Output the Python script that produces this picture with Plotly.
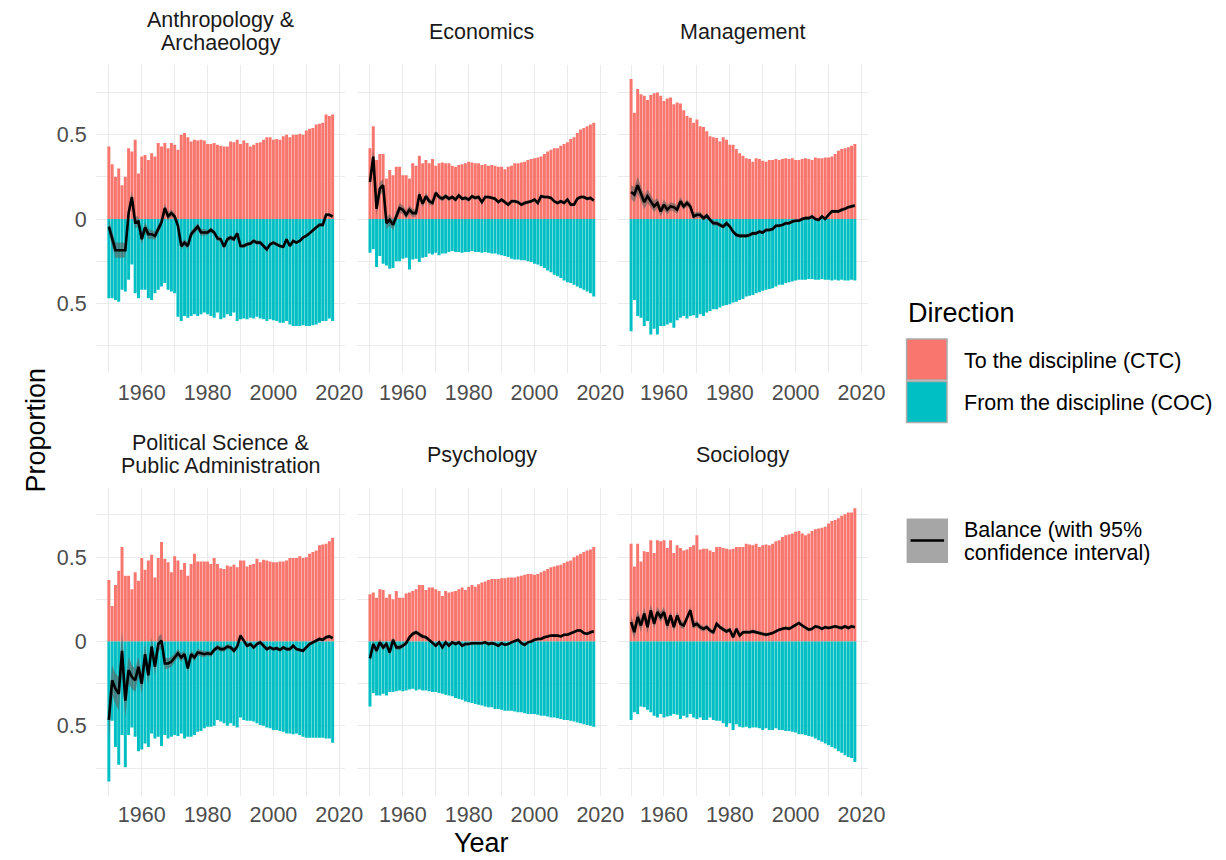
import plotly.graph_objects as go

# The rendered page shows the figure 8 px lower than the canvas top, so the
# figure is 8 px shorter and vertical positions (measured on a 1226x860 canvas)
# are shifted up by 8 px. Horizontal positions need no shift.
PAGE_W, PAGE_H = 1226, 860
OFF_Y = 8
W, H = PAGE_W, PAGE_H - OFF_Y
FONT = "Liberation Sans, Arial, sans-serif"

years = list(range(1950, 2019))
panel_names = ["Anthropology & Archaeology", "Economics", "Management",
               "Political Science & Public Administration", "Psychology", "Sociology"]
strip_lines = [["Anthropology &", "Archaeology"], ["Economics"], ["Management"],
               ["Political Science &", "Public Administration"], ["Psychology"], ["Sociology"]]
x_tick_vals = [1960, 1980, 2000, 2020]
x_tick_text = ["1960", "1980", "2000", "2020"]
x_minor_vals = [1950, 1970, 1990, 2010]
y_tick_vals = [-0.5, 0, 0.5]
y_tick_text = ["0.5", "0", "0.5"]
y_minor_vals = [-0.75, -0.25, 0.25, 0.75]
legend_labels = ["To the discipline (CTC)", "From the discipline (COC)"]
balance_label = ["Balance (with 95%", "confidence interval)"]

# ---------------- Anthropology & Archaeology ----------------
anthro_ctc = [0.43, 0.325, 0.25, 0.30, 0.20, 0.25, 0.42, 0.40, 0.47, 0.27,
              0.37, 0.38, 0.35, 0.39, 0.37, 0.45, 0.43, 0.45, 0.42, 0.45,
              0.44, 0.41, 0.50, 0.51, 0.485, 0.46, 0.47, 0.465, 0.47, 0.465,
              0.445, 0.445, 0.45, 0.44, 0.435, 0.43, 0.43, 0.46, 0.455, 0.47,
              0.445, 0.465, 0.45, 0.43, 0.44, 0.45, 0.455, 0.47, 0.485, 0.485,
              0.47, 0.475, 0.47, 0.49, 0.50, 0.485, 0.50, 0.50, 0.505, 0.50,
              0.525, 0.535, 0.54, 0.56, 0.565, 0.57, 0.62, 0.61, 0.62]
anthro_coc = [-0.47, -0.47, -0.48, -0.49, -0.42, -0.43, -0.36, -0.27, -0.44, -0.47,
              -0.42, -0.42, -0.47, -0.48, -0.44, -0.42, -0.40, -0.38, -0.42, -0.43,
              -0.44, -0.58, -0.605, -0.575, -0.585, -0.575, -0.565, -0.575, -0.565, -0.555,
              -0.565, -0.575, -0.585, -0.555, -0.595, -0.585, -0.565, -0.575, -0.555, -0.605,
              -0.595, -0.59, -0.595, -0.585, -0.59, -0.58, -0.59, -0.595, -0.605, -0.595,
              -0.60, -0.605, -0.615, -0.615, -0.605, -0.625, -0.635, -0.635, -0.635, -0.63,
              -0.635, -0.635, -0.63, -0.625, -0.615, -0.605, -0.605, -0.59, -0.605]
anthro_bal = [-0.045, -0.12, -0.185, -0.185, -0.185, -0.185, 0.035, 0.13, -0.02, -0.015,
              -0.12, -0.05, -0.09, -0.09, -0.10, -0.06, -0.02, 0.065, 0.015, 0.035,
              0.015, -0.04, -0.16, -0.14, -0.16, -0.09, -0.07, -0.045, -0.08, -0.08,
              -0.08, -0.065, -0.08, -0.115, -0.12, -0.165, -0.12, -0.11, -0.12, -0.085,
              -0.16, -0.16, -0.15, -0.145, -0.13, -0.14, -0.14, -0.16, -0.18, -0.15,
              -0.14, -0.15, -0.16, -0.165, -0.12, -0.16, -0.13, -0.14, -0.13, -0.11,
              -0.10, -0.085, -0.065, -0.05, -0.035, -0.035, 0.025, 0.025, 0.015]
anthro_ci = [0.04, 0.04, 0.045, 0.045, 0.045, 0.04, 0.04, 0.035, 0.035, 0.03,
             0.03, 0.03, 0.03, 0.025, 0.025, 0.025, 0.025, 0.025, 0.025, 0.02,
             0.02, 0.02, 0.02, 0.02, 0.02, 0.02, 0.02, 0.02, 0.02, 0.02,
             0.015, 0.015, 0.015, 0.015, 0.015, 0.015, 0.015, 0.015, 0.015, 0.015,
             0.012, 0.012, 0.012, 0.012, 0.012, 0.012, 0.012, 0.012, 0.012, 0.012,
             0.01, 0.01, 0.01, 0.01, 0.01, 0.01, 0.01, 0.01, 0.01, 0.01,
             0.01, 0.01, 0.01, 0.01, 0.01, 0.01, 0.01, 0.01, 0.01]

# ---------------- Economics ----------------
econ_ctc = [0.42, 0.55, 0.35, 0.385, 0.385, 0.24, 0.29, 0.26, 0.31, 0.31,
            0.26, 0.26, 0.24, 0.33, 0.315, 0.375, 0.33, 0.35, 0.33, 0.355,
            0.315, 0.33, 0.335, 0.33, 0.33, 0.315, 0.31, 0.32, 0.325, 0.33,
            0.34, 0.335, 0.33, 0.33, 0.32, 0.325, 0.315, 0.32, 0.315, 0.31,
            0.31, 0.295, 0.31, 0.315, 0.33, 0.33, 0.335, 0.34, 0.35, 0.355,
            0.36, 0.365, 0.37, 0.385, 0.40, 0.41, 0.42, 0.42, 0.435, 0.445,
            0.455, 0.475, 0.485, 0.51, 0.53, 0.54, 0.55, 0.56, 0.57]
econ_coc = [-0.20, -0.18, -0.285, -0.22, -0.265, -0.275, -0.295, -0.29, -0.25, -0.25,
            -0.235, -0.23, -0.30, -0.24, -0.235, -0.255, -0.23, -0.225, -0.205, -0.21,
            -0.20, -0.215, -0.205, -0.205, -0.195, -0.19, -0.195, -0.195, -0.20, -0.195,
            -0.195, -0.19, -0.195, -0.195, -0.20, -0.195, -0.20, -0.205, -0.205, -0.21,
            -0.215, -0.22, -0.225, -0.235, -0.24, -0.24, -0.245, -0.245, -0.25, -0.255,
            -0.265, -0.27, -0.28, -0.29, -0.305, -0.315, -0.33, -0.34, -0.35, -0.365,
            -0.375, -0.38, -0.39, -0.40, -0.41, -0.42, -0.43, -0.44, -0.46]
econ_bal = [0.22, 0.37, 0.06, 0.18, 0.20, -0.025, -0.005, -0.035, 0.015, 0.065,
            0.055, 0.025, 0.055, 0.035, 0.035, 0.145, 0.09, 0.135, 0.105, 0.095,
            0.155, 0.13, 0.12, 0.135, 0.12, 0.13, 0.115, 0.14, 0.12, 0.125,
            0.115, 0.135, 0.125, 0.13, 0.10, 0.13, 0.13, 0.125, 0.12, 0.10,
            0.115, 0.10, 0.085, 0.105, 0.105, 0.10, 0.085, 0.095, 0.10, 0.105,
            0.115, 0.095, 0.135, 0.13, 0.13, 0.125, 0.105, 0.095, 0.105, 0.095,
            0.115, 0.085, 0.085, 0.12, 0.13, 0.13, 0.12, 0.125, 0.11]
econ_ci = [0.045, 0.05, 0.04, 0.04, 0.035, 0.035, 0.035, 0.03, 0.03, 0.03,
           0.025, 0.025, 0.025, 0.025, 0.02, 0.02, 0.02, 0.02, 0.02, 0.015,
           0.015, 0.015, 0.015, 0.015, 0.015, 0.012, 0.012, 0.012, 0.012, 0.012,
           0.012, 0.012, 0.012, 0.012, 0.012, 0.01, 0.01, 0.01, 0.01, 0.01,
           0.01, 0.01, 0.01, 0.01, 0.01, 0.01, 0.01, 0.01, 0.01, 0.01,
           0.01, 0.01, 0.01, 0.01, 0.01, 0.01, 0.01, 0.01, 0.01, 0.01,
           0.01, 0.01, 0.01, 0.01, 0.01, 0.01, 0.01, 0.01, 0.01]

# ---------------- Management ----------------
mgmt_ctc = [0.83, 0.63, 0.77, 0.74, 0.73, 0.705, 0.735, 0.745, 0.75, 0.73,
            0.70, 0.715, 0.72, 0.68, 0.69, 0.685, 0.645, 0.61, 0.60, 0.57,
            0.59, 0.55, 0.545, 0.52, 0.49, 0.485, 0.48, 0.46, 0.485, 0.47,
            0.44, 0.44, 0.415, 0.39, 0.375, 0.36, 0.355, 0.34, 0.36, 0.355,
            0.345, 0.34, 0.35, 0.35, 0.355, 0.35, 0.355, 0.36, 0.355, 0.36,
            0.35, 0.35, 0.355, 0.36, 0.355, 0.35, 0.365, 0.36, 0.36, 0.365,
            0.365, 0.37, 0.385, 0.405, 0.415, 0.42, 0.425, 0.435, 0.445]
mgmt_coc = [-0.665, -0.48, -0.575, -0.585, -0.635, -0.605, -0.685, -0.65, -0.685, -0.635,
            -0.635, -0.625, -0.615, -0.645, -0.60, -0.585, -0.575, -0.59, -0.575, -0.57,
            -0.585, -0.565, -0.575, -0.555, -0.545, -0.535, -0.535, -0.525, -0.515, -0.51,
            -0.505, -0.495, -0.49, -0.48, -0.475, -0.46, -0.455, -0.45, -0.44, -0.435,
            -0.425, -0.42, -0.415, -0.41, -0.40, -0.39, -0.39, -0.38, -0.375, -0.37,
            -0.365, -0.36, -0.36, -0.36, -0.355, -0.355, -0.36, -0.36, -0.355, -0.36,
            -0.36, -0.365, -0.36, -0.365, -0.36, -0.365, -0.365, -0.36, -0.365]
mgmt_bal = [0.16, 0.145, 0.20, 0.155, 0.10, 0.135, 0.105, 0.075, 0.095, 0.045,
            0.085, 0.055, 0.075, 0.07, 0.055, 0.105, 0.075, 0.095, 0.075, 0.015,
            0.025, 0.025, 0.005, 0.02, -0.005, -0.025, -0.025, -0.035, -0.045, -0.025,
            -0.045, -0.075, -0.095, -0.10, -0.10, -0.10, -0.095, -0.085, -0.085, -0.075,
            -0.08, -0.065, -0.065, -0.06, -0.04, -0.04, -0.035, -0.025, -0.025, -0.015,
            -0.01, -0.01, 0.0, 0.005, 0.005, 0.015, 0.0, -0.005, 0.015, 0.0,
            0.025, 0.045, 0.045, 0.045, 0.055, 0.06, 0.07, 0.075, 0.08]
mgmt_ci = [0.04, 0.045, 0.05, 0.045, 0.04, 0.04, 0.035, 0.035, 0.03, 0.03,
           0.03, 0.03, 0.025, 0.025, 0.025, 0.025, 0.02, 0.02, 0.02, 0.02,
           0.018, 0.018, 0.016, 0.016, 0.015, 0.015, 0.014, 0.014, 0.013, 0.013,
           0.012, 0.012, 0.012, 0.012, 0.011, 0.011, 0.011, 0.011, 0.01, 0.01,
           0.01, 0.01, 0.01, 0.01, 0.01, 0.01, 0.01, 0.01, 0.01, 0.01,
           0.01, 0.01, 0.01, 0.01, 0.01, 0.01, 0.01, 0.01, 0.01, 0.01,
           0.01, 0.01, 0.01, 0.01, 0.01, 0.01, 0.01, 0.01, 0.01]

# ---------------- Political Science & Public Administration ----------------
polsci_ctc = [0.365, 0.21, 0.335, 0.42, 0.56, 0.39, 0.39, 0.31, 0.41, 0.36,
              0.495, 0.425, 0.48, 0.515, 0.38, 0.495, 0.59, 0.49, 0.47, 0.41,
              0.505, 0.48, 0.425, 0.465, 0.39, 0.46, 0.52, 0.475, 0.475, 0.475,
              0.475, 0.46, 0.495, 0.46, 0.435, 0.43, 0.45, 0.445, 0.455, 0.44,
              0.48, 0.48, 0.445, 0.455, 0.46, 0.49, 0.47, 0.485, 0.48, 0.475,
              0.47, 0.47, 0.475, 0.475, 0.48, 0.495, 0.495, 0.495, 0.505, 0.495,
              0.50, 0.52, 0.53, 0.54, 0.57, 0.575, 0.58, 0.595, 0.615]
polsci_coc = [-0.83, -0.47, -0.625, -0.73, -0.555, -0.745, -0.555, -0.51, -0.565, -0.65,
              -0.64, -0.605, -0.625, -0.545, -0.575, -0.565, -0.62, -0.555, -0.575, -0.565,
              -0.555, -0.56, -0.545, -0.575, -0.565, -0.565, -0.555, -0.535, -0.53, -0.515,
              -0.505, -0.505, -0.50, -0.465, -0.475, -0.485, -0.50, -0.485, -0.50, -0.51,
              -0.45, -0.465, -0.47, -0.47, -0.475, -0.485, -0.495, -0.50, -0.51, -0.515,
              -0.525, -0.525, -0.53, -0.535, -0.545, -0.545, -0.55, -0.545, -0.555, -0.565,
              -0.57, -0.57, -0.57, -0.57, -0.57, -0.57, -0.575, -0.575, -0.60]
polsci_bal = [-0.465, -0.23, -0.28, -0.31, -0.055, -0.35, -0.17, -0.21, -0.23, -0.15,
              -0.25, -0.075, -0.20, -0.03, -0.15, -0.015, 0.005, -0.13, -0.13, -0.12,
              -0.095, -0.07, -0.095, -0.075, -0.16, -0.075, -0.095, -0.065, -0.07, -0.075,
              -0.07, -0.075, -0.05, -0.035, -0.045, -0.045, -0.03, -0.035, -0.055, -0.03,
              0.035, 0.005, -0.025, -0.015, -0.035, -0.015, -0.005, -0.025, -0.045, -0.035,
              -0.045, -0.04, -0.05, -0.035, -0.045, -0.045, -0.025, -0.045, -0.05, -0.055,
              -0.035, -0.015, -0.005, 0.005, 0.015, 0.01, 0.025, 0.03, 0.02]
polsci_ci = [0.12, 0.09, 0.09, 0.10, 0.12, 0.10, 0.08, 0.07, 0.07, 0.06,
             0.06, 0.06, 0.05, 0.05, 0.045, 0.045, 0.04, 0.035, 0.03, 0.03,
             0.025, 0.025, 0.025, 0.02, 0.02, 0.02, 0.02, 0.02, 0.018, 0.018,
             0.015, 0.015, 0.015, 0.015, 0.015, 0.015, 0.015, 0.015, 0.015, 0.015,
             0.012, 0.012, 0.012, 0.012, 0.012, 0.012, 0.012, 0.012, 0.012, 0.012,
             0.01, 0.01, 0.01, 0.01, 0.01, 0.01, 0.01, 0.01, 0.01, 0.01,
             0.01, 0.01, 0.01, 0.01, 0.01, 0.01, 0.01, 0.01, 0.01]

# ---------------- Psychology ----------------
psych_ctc = [0.28, 0.29, 0.26, 0.31, 0.305, 0.26, 0.28, 0.25, 0.30, 0.26,
             0.26, 0.285, 0.29, 0.30, 0.31, 0.335, 0.335, 0.305, 0.32, 0.32,
             0.31, 0.30, 0.27, 0.30, 0.29, 0.295, 0.30, 0.31, 0.32, 0.305,
             0.325, 0.335, 0.325, 0.34, 0.35, 0.355, 0.365, 0.37, 0.37, 0.37,
             0.375, 0.375, 0.38, 0.38, 0.38, 0.385, 0.39, 0.395, 0.40, 0.40,
             0.395, 0.40, 0.41, 0.42, 0.43, 0.44, 0.445, 0.45, 0.455, 0.465,
             0.475, 0.48, 0.50, 0.51, 0.52, 0.53, 0.54, 0.545, 0.56]
psych_coc = [-0.385, -0.305, -0.32, -0.32, -0.31, -0.32, -0.30, -0.30, -0.295, -0.29,
             -0.295, -0.29, -0.285, -0.28, -0.29, -0.285, -0.29, -0.29, -0.295, -0.30,
             -0.30, -0.305, -0.31, -0.315, -0.32, -0.325, -0.335, -0.34, -0.345, -0.355,
             -0.36, -0.365, -0.37, -0.375, -0.38, -0.385, -0.39, -0.39, -0.40, -0.40,
             -0.405, -0.41, -0.41, -0.41, -0.415, -0.42, -0.42, -0.425, -0.43, -0.43,
             -0.43, -0.435, -0.44, -0.44, -0.445, -0.45, -0.45, -0.455, -0.46, -0.465,
             -0.465, -0.47, -0.475, -0.48, -0.485, -0.49, -0.495, -0.50, -0.505]
psych_bal = [-0.10, -0.015, -0.055, -0.005, -0.035, -0.015, -0.065, 0.01, -0.035, -0.035,
             -0.025, -0.01, 0.025, 0.045, 0.055, 0.04, 0.03, 0.025, 0.01, -0.005,
             -0.025, -0.005, -0.035, -0.005, -0.025, -0.005, -0.015, -0.005, -0.025, -0.015,
             -0.015, -0.01, -0.01, -0.01, -0.01, -0.005, -0.015, -0.01, -0.015, -0.025,
             -0.01, -0.02, -0.015, -0.005, 0.005, 0.01, -0.01, -0.02, -0.005, 0.0,
             0.01, 0.015, 0.015, 0.025, 0.03, 0.035, 0.035, 0.035, 0.03, 0.04,
             0.04, 0.05, 0.055, 0.065, 0.065, 0.05, 0.045, 0.055, 0.06]
psych_ci = [0.02, 0.02, 0.02, 0.018, 0.018, 0.018, 0.016, 0.016, 0.015, 0.015,
            0.014, 0.014, 0.013, 0.013, 0.012, 0.012, 0.012, 0.011, 0.011, 0.01,
            0.01, 0.01, 0.01, 0.01, 0.01, 0.01, 0.01, 0.01, 0.01, 0.01,
            0.009, 0.009, 0.009, 0.009, 0.009, 0.009, 0.009, 0.009, 0.009, 0.009,
            0.008, 0.008, 0.008, 0.008, 0.008, 0.008, 0.008, 0.008, 0.008, 0.008,
            0.008, 0.008, 0.008, 0.008, 0.008, 0.008, 0.008, 0.008, 0.008, 0.008,
            0.008, 0.008, 0.008, 0.008, 0.008, 0.008, 0.008, 0.008, 0.008]

# ---------------- Sociology ----------------
soc_ctc = [0.58, 0.445, 0.58, 0.475, 0.535, 0.53, 0.60, 0.525, 0.60, 0.595,
           0.60, 0.555, 0.60, 0.525, 0.57, 0.555, 0.54, 0.545, 0.56, 0.57,
           0.63, 0.545, 0.55, 0.55, 0.54, 0.53, 0.56, 0.56, 0.555, 0.55,
           0.545, 0.55, 0.56, 0.56, 0.56, 0.58, 0.575, 0.57, 0.58, 0.56,
           0.57, 0.575, 0.57, 0.58, 0.595, 0.60, 0.62, 0.63, 0.635, 0.64,
           0.65, 0.655, 0.64, 0.63, 0.64, 0.655, 0.665, 0.67, 0.675, 0.68,
           0.70, 0.715, 0.72, 0.73, 0.745, 0.755, 0.765, 0.765, 0.79]
soc_coc = [-0.465, -0.42, -0.43, -0.385, -0.39, -0.405, -0.42, -0.44, -0.45, -0.43,
           -0.45, -0.445, -0.44, -0.43, -0.435, -0.46, -0.44, -0.45, -0.43, -0.45,
           -0.46, -0.45, -0.465, -0.465, -0.45, -0.465, -0.47, -0.47, -0.485, -0.505,
           -0.485, -0.525, -0.49, -0.505, -0.51, -0.505, -0.515, -0.51, -0.51, -0.515,
           -0.525, -0.515, -0.525, -0.525, -0.515, -0.525, -0.525, -0.53, -0.53, -0.535,
           -0.54, -0.55, -0.55, -0.555, -0.56, -0.565, -0.575, -0.585, -0.595, -0.605,
           -0.615, -0.625, -0.635, -0.65, -0.66, -0.675, -0.685, -0.69, -0.715]
soc_bal = [0.115, 0.055, 0.145, 0.095, 0.165, 0.085, 0.185, 0.105, 0.175, 0.145,
           0.175, 0.095, 0.155, 0.085, 0.155, 0.105, 0.095, 0.145, 0.185, 0.095,
           0.105, 0.085, 0.075, 0.085, 0.065, 0.055, 0.105, 0.085, 0.07, 0.06,
           0.07, 0.025, 0.075, 0.035, 0.055, 0.055, 0.055, 0.06, 0.055, 0.05,
           0.045, 0.04, 0.045, 0.05, 0.06, 0.07, 0.075, 0.08, 0.075, 0.085,
           0.095, 0.11, 0.095, 0.08, 0.07, 0.075, 0.09, 0.085, 0.075, 0.085,
           0.08, 0.085, 0.09, 0.085, 0.08, 0.09, 0.08, 0.09, 0.085]
soc_ci = [0.04, 0.04, 0.04, 0.035, 0.035, 0.035, 0.035, 0.03, 0.03, 0.03,
          0.03, 0.03, 0.025, 0.025, 0.025, 0.025, 0.02, 0.02, 0.02, 0.02,
          0.018, 0.018, 0.016, 0.016, 0.015, 0.015, 0.014, 0.014, 0.013, 0.013,
          0.012, 0.012, 0.012, 0.012, 0.011, 0.011, 0.011, 0.011, 0.01, 0.01,
          0.01, 0.01, 0.01, 0.01, 0.01, 0.01, 0.01, 0.01, 0.01, 0.01,
          0.01, 0.01, 0.01, 0.01, 0.01, 0.01, 0.01, 0.01, 0.01, 0.01,
          0.01, 0.01, 0.01, 0.01, 0.01, 0.01, 0.01, 0.01, 0.01]

panel_data = [
    (anthro_ctc, anthro_coc, anthro_bal, anthro_ci),
    (econ_ctc, econ_coc, econ_bal, econ_ci),
    (mgmt_ctc, mgmt_coc, mgmt_bal, mgmt_ci),
    (polsci_ctc, polsci_coc, polsci_bal, polsci_ci),
    (psych_ctc, psych_coc, psych_bal, psych_ci),
    (soc_ctc, soc_coc, soc_bal, soc_ci),
]
for k, arrs in enumerate(panel_data):
    for a in arrs:
        if len(a) != len(years):
            raise ValueError(f"panel {k} array length {len(a)}")

# ---------------- geometry (pixels on the 1226x860 page) ----------------
COL_LEFT = [89.0, 354.0, 619.0]
PANEL_W = 253.5
ROW_TOP = [65.0, 487.5]
PANEL_H = 308.0
CTC_COLOR = "#F8766D"
COC_COLOR = "#00BFC4"
RIBBON = "rgba(95,95,95,0.6)"
GRID = "#EBEBEB"


def px(x):
    return x / W


def py(y):
    return 1 - (y - OFF_Y) / H


fig = go.Figure()
layout = dict(
    width=W, height=H, autosize=False,
    margin=dict(l=0, r=0, t=0, b=0),
    paper_bgcolor="white", plot_bgcolor="white",
    barmode="overlay", showlegend=False,
    font=dict(family=FONT, color="#1A1A1A"),
)

annotations = []
shapes = []

for i, (ctc, coc, bal, ci) in enumerate(panel_data):
    r, c = divmod(i, 3)
    sfx = "" if i == 0 else str(i + 1)
    xa, ya = "x" + sfx, "y" + sfx
    fig.add_trace(go.Bar(x=years, y=ctc, width=0.9, xaxis=xa, yaxis=ya,
                         marker=dict(color=CTC_COLOR, line=dict(width=0)),
                         name=legend_labels[0]))
    fig.add_trace(go.Bar(x=years, y=coc, width=0.9, xaxis=xa, yaxis=ya,
                         marker=dict(color=COC_COLOR, line=dict(width=0)),
                         name=legend_labels[1]))
    upper = [b + e for b, e in zip(bal, ci)]
    lower = [b - e for b, e in zip(bal, ci)]
    fig.add_trace(go.Scatter(x=years + years[::-1], y=upper + lower[::-1],
                             xaxis=xa, yaxis=ya, mode="lines", fill="toself",
                             fillcolor=RIBBON, line=dict(width=0), hoverinfo="skip"))
    fig.add_trace(go.Scatter(x=years, y=bal, xaxis=xa, yaxis=ya, mode="lines",
                             line=dict(color="black", width=2.6), name="Balance"))

    x0 = COL_LEFT[c]
    y0 = ROW_TOP[r]
    layout["xaxis" + sfx] = dict(
        domain=[px(x0), px(x0 + PANEL_W)], anchor=ya, range=[1946.0, 2021.9],
        tickmode="array", tickvals=x_tick_vals, ticktext=x_tick_text,
        showgrid=True, gridcolor=GRID, gridwidth=1.3,
        minor=dict(tickmode="array", tickvals=x_minor_vals, showgrid=True,
                   gridcolor=GRID, gridwidth=1.1),
        zeroline=False, showline=False, ticks="",
        tickfont=dict(family=FONT, size=21.5, color="#4D4D4D"),
        ticklabelstandoff=4, fixedrange=True,
    )
    layout["yaxis" + sfx] = dict(
        domain=[py(y0 + PANEL_H), py(y0)], anchor=xa, range=[-0.913, 0.913],
        tickmode="array", tickvals=y_tick_vals, ticktext=y_tick_text,
        showgrid=True, gridcolor=GRID, gridwidth=1.3,
        minor=dict(tickmode="array", tickvals=y_minor_vals, showgrid=True,
                   gridcolor=GRID, gridwidth=1.1),
        zeroline=False, showline=False, ticks="",
        showticklabels=(c == 0),
        tickfont=dict(family=FONT, size=21.5, color="#4D4D4D"),
        ticklabelstandoff=8, fixedrange=True,
    )

    # strip labels
    cx = px(x0 + PANEL_W / 2)
    lines = strip_lines[i]
    if len(lines) == 2:
        centers = [y0 - 45.0, y0 - 21.5]
    else:
        centers = [y0 - 33.0]
    for txt, yc in zip(lines, centers):
        annotations.append(dict(text=txt, x=cx, y=py(yc), xref="paper", yref="paper",
                                xanchor="center", yanchor="middle", showarrow=False,
                                font=dict(family=FONT, size=21.5, color="#1A1A1A")))

# axis titles
annotations.append(dict(text="Year", x=px(480.5), y=py(843), xref="paper", yref="paper",
                        xanchor="center", yanchor="middle", showarrow=False,
                        font=dict(family=FONT, size=27, color="black")))
annotations.append(dict(text="Proportion", x=px(28), y=py(430), xref="paper", yref="paper",
                        xanchor="center", yanchor="middle", showarrow=False, textangle=-90,
                        font=dict(family=FONT, size=27, color="black")))

# legend (drawn manually)
annotations.append(dict(text="Direction", x=px(911), y=py(313), xref="paper", yref="paper",
                        xanchor="left", yanchor="middle", showarrow=False,
                        font=dict(family=FONT, size=27, color="black")))
shapes.append(dict(type="rect", xref="paper", yref="paper",
                   x0=px(912), x1=px(953), y0=py(380), y1=py(339),
                   fillcolor=CTC_COLOR, line=dict(color="#ABABAB", width=1.5)))
shapes.append(dict(type="rect", xref="paper", yref="paper",
                   x0=px(912), x1=px(953), y0=py(422.5), y1=py(381.5),
                   fillcolor=COC_COLOR, line=dict(color="#ABABAB", width=1.5)))
annotations.append(dict(text=legend_labels[0], x=px(968), y=py(360.5), xref="paper", yref="paper",
                        xanchor="left", yanchor="middle", showarrow=False,
                        font=dict(family=FONT, size=21.5, color="black")))
annotations.append(dict(text=legend_labels[1], x=px(968), y=py(403), xref="paper", yref="paper",
                        xanchor="left", yanchor="middle", showarrow=False,
                        font=dict(family=FONT, size=21.5, color="black")))
shapes.append(dict(type="rect", xref="paper", yref="paper",
                   x0=px(912), x1=px(954), y0=py(563), y1=py(518.5),
                   fillcolor="#A6A6A6", line=dict(width=0)))
shapes.append(dict(type="line", xref="paper", yref="paper",
                   x0=px(916), x1=px(950), y0=py(540.5), y1=py(540.5),
                   line=dict(color="black", width=2.6)))
annotations.append(dict(text=balance_label[0], x=px(968), y=py(529.5), xref="paper", yref="paper",
                        xanchor="left", yanchor="middle", showarrow=False,
                        font=dict(family=FONT, size=21.5, color="black")))
annotations.append(dict(text=balance_label[1], x=px(968), y=py(553), xref="paper", yref="paper",
                        xanchor="left", yanchor="middle", showarrow=False,
                        font=dict(family=FONT, size=21.5, color="black")))

layout["annotations"] = annotations
layout["shapes"] = shapes
fig.update_layout(**layout)
fig.write_html("out.html")
